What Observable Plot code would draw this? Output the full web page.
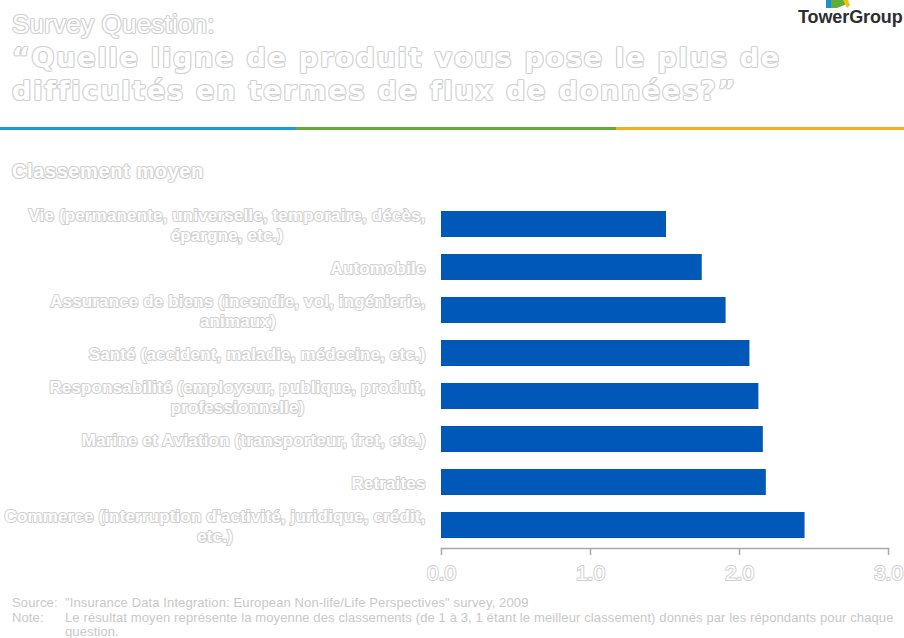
<!DOCTYPE html>
<html>
<head>
<meta charset="utf-8">
<script src="https://cdn.jsdelivr.net/npm/d3@7"></script>
<script src="https://cdn.jsdelivr.net/npm/@observablehq/plot@0.6"></script>
<style>
  html, body { margin: 0; padding: 0; background: #fff; }
  body { width: 904px; height: 638px; position: relative; overflow: hidden; font-family: "Liberation Sans", Arial, sans-serif; }
  .outl { color: #fff; text-shadow: -1px 0 #cfcfcf, 1px 0 #cfcfcf, 0 -1px #cfcfcf, 0 1px #cfcfcf, -1px -1px #e6e6e6, 1px 1px #e6e6e6, 1px -1px #e6e6e6, -1px 1px #e6e6e6; }
  #t1 { position: absolute; left: 12px; top: 11px; font-size: 26px; line-height: 26px; letter-spacing: 0.2px; white-space: nowrap; }
  #t2 { position: absolute; left: 12px; top: 41px; font-family: "DejaVu Sans", Verdana, sans-serif; font-size: 27px; line-height: 33px; font-weight: bold; letter-spacing: 1.8px; white-space: nowrap; }
  #rule { position: absolute; left: 0; top: 127px; width: 904px; height: 3px; display: flex; }
  #rule div { height: 3px; }
  #sub { position: absolute; left: 12px; top: 161px; font-size: 20px; line-height: 20px; font-weight: bold; letter-spacing: 0.6px; white-space: nowrap; }
  #chart { position: absolute; left: 0; top: 190px; }
  #foot { position: absolute; left: 12px; top: 596px; font-size: 13px; line-height: 14.5px; color: #c8c8c8; letter-spacing: 0.12px; }
  #foot .row { display: flex; }
  #foot .k { width: 53px; flex: none; }
  #logo { position: absolute; left: 797px; top: 0; width: 107px; height: 30px; }
  #logo .name { position: absolute; left: 1px; top: 8px; font-size: 18px; line-height: 18px; font-weight: bold; color: #2e2e2e; letter-spacing: -0.1px; white-space: nowrap; }
  #logo svg { position: absolute; left: 26px; top: -3px; }
  [aria-label="x-axis tick label"] text { fill: #fff; stroke: #cfcfcf; stroke-width: 2px; paint-order: stroke; }
</style>
</head>
<body>
<div id="t1" class="outl"></div>
<div id="t2" class="outl"></div>
<div id="rule"></div>
<div id="sub" class="outl"></div>
<div id="chart"></div>
<div id="foot"></div>
<div id="logo">
  <svg width="30" height="12" viewBox="0 0 30 12">
    <polygon points="3,0 8,0 8,11 3,11" fill="#1b8fd6"/>
    <polygon points="8,3 18,0 24,7 14,11 8,11" fill="#5fae3a"/>
    <polygon points="19,1 24,0 27,8 24,11" fill="#f2c21b"/>
  </svg>
  <div class="name">TowerGroup</div>
</div>
<script>
// ---- Data ----
const titleLine1 = "Survey Question:";
const titleLines = ["\u201cQuelle ligne de produit vous pose le plus de", "difficult\u00e9s en termes de flux de donn\u00e9es?\u201d"];
const subtitle = "Classement moyen";
const categories = [
  "Vie (permanente, universelle, temporaire, d\u00e9c\u00e8s,\n\u00e9pargne, etc.)",
  "Automobile",
  "Assurance de biens (incendie, vol, ing\u00e9nierie,\nanimaux)",
  "Sant\u00e9 (accident, maladie, m\u00e9decine, etc.)",
  "Responsabilit\u00e9 (employeur, publique, produit,\nprofessionnelle)",
  "Marine et Aviation (transporteur, fret, etc.)",
  "Retraites",
  "Commerce (interruption d'activit\u00e9, juridique, cr\u00e9dit,\netc.)"
];
const values = [1.51, 1.75, 1.91, 2.07, 2.13, 2.16, 2.18, 2.44];
const xTicks = [0, 1, 2, 3];
const ruleColors = ["#1f9ad8", "#68a93a", "#eeb120"];
const ruleWidths = [296, 320, 288];
const footKeys = ["Source:", "Note:"];
const footTexts = [
  "\"Insurance Data Integration: European Non-life/Life Perspectives\" survey, 2009",
  "Le r\u00e9sultat moyen repr\u00e9sente la moyenne des classements (de 1 \u00e0 3, 1 \u00e9tant le meilleur classement) donn\u00e9s par les r\u00e9pondants pour chaque<br>question."
];

// ---- Header ----
document.getElementById("t1").textContent = titleLine1;
document.getElementById("t2").innerHTML = titleLines.join("<br>");
document.getElementById("sub").textContent = subtitle;
const rule = document.getElementById("rule");
ruleColors.forEach((c, i) => {
  const d = document.createElement("div");
  d.style.background = c; d.style.width = ruleWidths[i] + "px";
  rule.appendChild(d);
});
const foot = document.getElementById("foot");
footKeys.forEach((k, i) => {
  const r = document.createElement("div"); r.className = "row";
  r.innerHTML = `<div class="k">${k}</div><div>${footTexts[i]}</div>`;
  foot.appendChild(r);
});

// ---- Chart ----
const data = categories.map((c, i) => ({cat: c, value: values[i]}));
const chart = Plot.plot({
  width: 904,
  height: 400,
  marginLeft: 441,
  marginRight: 16,
  marginTop: 11,
  marginBottom: 42,
  style: {fontFamily: "'Liberation Sans', Arial, sans-serif", background: "transparent"},
  x: {domain: [0, 3], label: null},
  y: {domain: categories, axis: null, paddingInner: 0.39, paddingOuter: 0.2},
  marks: [
    Plot.barX(data, {x: "value", y: "cat", fill: "#0059b8"}),
    Plot.frame({anchor: "bottom", stroke: "#a8a8a8", strokeWidth: 1.5}),
    Plot.axisX(xTicks, {tickSize: 7, tickPadding: 10, stroke: "#a8a8a8", strokeWidth: 1.5, fontSize: 21, label: null, tickFormat: d3.format(".1f")}),
    Plot.text(data, {y: "cat", text: "cat", frameAnchor: "left", dx: -16, textAnchor: "end",
      fontSize: 17, fontWeight: "bold", lineHeight: 1.15, fill: "#fff", stroke: "#cfcfcf", strokeWidth: 2, paintOrder: "stroke"})
  ]
});
document.getElementById("chart").appendChild(chart);
chart.querySelectorAll("text").forEach(t => {
  if (t.closest('[aria-label="text"]')) t.style.letterSpacing = "0.15px";
});

// center multi-line label blocks (right edge kept)
chart.querySelectorAll("text").forEach(t => {
  const spans = t.querySelectorAll("tspan");
  if (spans.length > 1) {
    const bb = t.getBBox();
    const cx = bb.x + bb.width / 2;
    spans.forEach(s => { s.setAttribute("x", cx); s.setAttribute("text-anchor", "middle"); });
  }
});
</script>
</body>
</html>
